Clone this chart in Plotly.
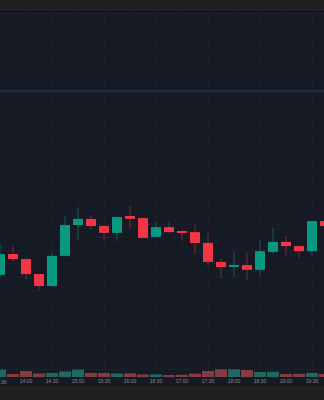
import plotly.graph_objects as go
import pandas as pd

times = pd.date_range("2024-01-02 13:30", periods=26, freq="15min")
opens  = [98.08, 98.87, 98.68, 98.11, 97.66, 98.80, 99.97, 100.20, 99.93, 99.67, 100.31, 100.23, 99.52,
          99.89, 99.74, 99.70, 99.29, 98.57, 98.38, 98.45, 98.27, 98.95, 99.33, 99.17, 98.98, 100.12]
highs  = [99.29, 99.17, 98.70, 98.13, 98.91, 100.31, 100.65, 100.35, 99.97, 100.31, 100.69, 100.25, 100.08,
          100.12, 99.76, 99.97, 99.67, 98.68, 98.98, 98.95, 99.40, 99.89, 99.55, 99.21, 100.12, 100.16]
lows   = [98.00, 98.57, 97.92, 97.47, 97.62, 98.78, 99.40, 99.82, 99.36, 99.36, 99.82, 99.46, 99.50,
          99.68, 99.36, 98.87, 98.42, 97.96, 98.00, 97.89, 98.04, 98.87, 98.83, 98.72, 98.80, 99.86]
closes = [98.87, 98.68, 98.11, 97.66, 98.80, 99.97, 100.20, 99.93, 99.67, 100.27, 100.20, 99.48, 99.89,
          99.70, 99.70, 99.29, 98.57, 98.38, 98.45, 98.27, 98.98, 99.33, 99.17, 98.98, 100.12, 99.93]
volumes = [740, 300, 600, 350, 400, 550, 750, 400, 400, 350, 360, 260, 270, 190, 230, 340,
           600, 770, 770, 700, 500, 520, 300, 320, 400, 300]
first_label = "13:30"
price_line = 105.05

UP, DOWN = "#089981", "#f23645"
UP_W, DOWN_W = "rgba(8,153,129,0.5)", "rgba(242,54,69,0.45)"
UP_V, DOWN_V = "#1c6a60", "#873a41"
BG = "#161a25"
GRID = "#1b1f2b"
TXT = "#868993"

up = [c >= o for o, c in zip(opens, closes)]

fig = go.Figure()

# volume
fig.add_trace(go.Bar(
    x=times, y=volumes, yaxis="y2", width=830000,
    marker=dict(color=[UP_V if u else DOWN_V for u in up], line=dict(width=0)),
    hoverinfo="skip"))

# wicks
for flag, col in ((True, UP_W), (False, DOWN_W)):
    wx, wy = [], []
    for t, h, l, u in zip(times, highs, lows, up):
        if u == flag:
            wx += [t, t, None]
            wy += [l, h, None]
    fig.add_trace(go.Scatter(x=wx, y=wy, mode="lines", line=dict(color=col, width=1),
                             hoverinfo="skip"))

# bodies
fig.add_trace(go.Bar(
    x=times, base=[min(o, c) for o, c in zip(opens, closes)],
    y=[max(abs(c - o), 0.03) for o, c in zip(opens, closes)],
    width=692000,
    marker=dict(color=[UP if u else DOWN for u in up], line=dict(width=0))))

fig.add_hline(y=price_line, line=dict(color="#1d4349", width=1))

# time-axis strip below the pane
fig.add_shape(type="rect", xref="paper", yref="paper", x0=0, x1=1, y0=-9/367, y1=0,
              fillcolor=BG, line=dict(width=0), layer="below")
fig.add_shape(type="line", xref="paper", yref="paper", x0=0, x1=1, y0=1.0014, y1=1.0014,
              line=dict(color="#2a2a2e", width=1))

# first (clipped) time label at the left edge
fig.add_annotation(x=times[0], xref="x", yref="paper", y=-5/367, text=first_label,
                   showarrow=False, xanchor="center", yanchor="middle",
                   font=dict(family="Liberation Sans", size=5, color=TXT))

fig.update_layout(
    width=324, height=400,
    margin=dict(l=0, r=0, t=10, b=23),
    paper_bgcolor="#202020", plot_bgcolor=BG,
    showlegend=False, barmode="overlay",
    xaxis=dict(range=[pd.Timestamp("2024-01-02 13:30"), pd.Timestamp("2024-01-02 19:43:51")],
               type="date", dtick=30 * 60 * 1000, tick0="2024-01-02 13:30",
               tickformat="%H:%M", showgrid=True, gridcolor=GRID, gridwidth=1,
               zeroline=False, showline=False, ticks="",
               tickfont=dict(family="Liberation Sans", size=5, color=TXT),
               fixedrange=True),
    yaxis=dict(range=[94.212, 108.114], dtick=0.5, tick0=0, showgrid=True, gridcolor=GRID,
               showticklabels=False, zeroline=False, showline=False),
    yaxis2=dict(range=[0, 36700], overlaying="y", showgrid=False, showticklabels=False,
                zeroline=False, showline=False),
)

fig.write_html("out.html")
